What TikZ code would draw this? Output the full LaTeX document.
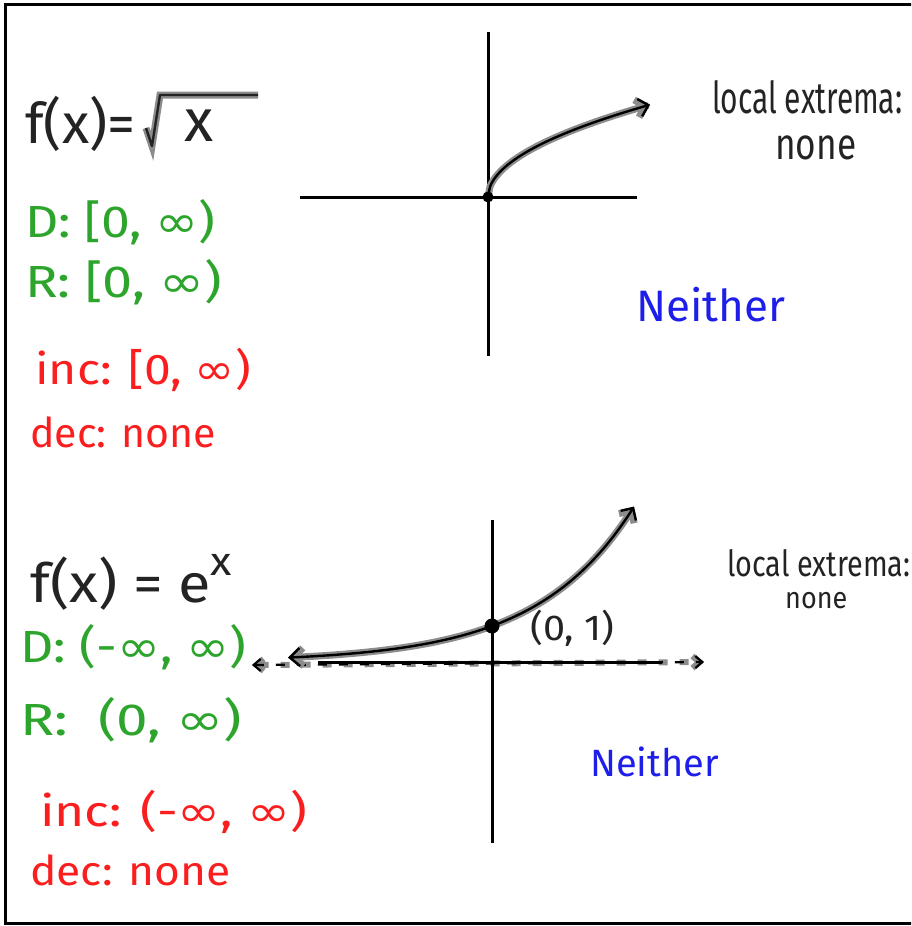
\documentclass[tikz,border=0pt]{standalone}
\usepackage{fontspec}
\setmainfont{Fira Sans}
\newfontfamily\symf{DejaVu Sans}
\usetikzlibrary{arrows.meta}
\definecolor{pgreen}{RGB}{45,165,45}
\definecolor{pred}{RGB}{250,30,30}
\definecolor{pblue}{RGB}{30,30,235}
\definecolor{pink}{RGB}{35,35,35}
\newcommand{\inff}{{\symf ∞}}
\newcommand{\sx}[2]{\scalebox{#1}[1]{#2}}
\begin{document}
\begin{tikzpicture}[x=1pt,y=-1pt,
  hw/.style={anchor=west,inner sep=0pt,font=\fontsize{#1}{#1}\selectfont},
  pen/.style={line width=2.4pt,draw=black,preaction={draw=black!45,line width=7pt}},
  axis/.style={line width=3pt,draw=black},
  tip/.style={-{Straight Barb[length=9pt,width=18pt]}},
  frame/.style={line width=3pt,draw=black}]
\useasboundingbox (0,0) rectangle (911,926);
\clip (0,0) rectangle (911,926);
\draw[frame] (5,4) rectangle (930,923);

% ---------- top: square root ----------
\node[hw=56,text=pink] (f1) at (25,124) {f(x)=};
\coordinate (ra) at (146,128);
\coordinate (rb) at (152,146);
\coordinate (rc) at (160,95);
\coordinate (rd) at (258,95);
\draw[pen,draw=pink,line join=round] (ra) -- (rb) -- (rc) -- (rd);
\node[hw=60,text=pink] (x1) at (184,126) {x};
\node[hw=45,text=pgreen] (d1) at (25,222) {\sx{1.15}{D: [0, \inff)}};
\node[hw=45,text=pgreen] (r1) at (25,282) {\sx{1.2}{R: [0, \inff)}};
\node[hw=43,text=pred] (i1) at (35,370) {\sx{1.12}{inc: [0, \inff)}};
\node[hw=41,text=pred] (c1) at (30,432) {dec: none};

\coordinate (h1a) at (300,197);
\coordinate (h1b) at (637,197);
\coordinate (v1a) at (488,32);
\coordinate (v1b) at (488,356);
\coordinate (o1) at (488,197);
\draw[axis] (h1a) -- (h1b);
\draw[axis] (v1a) -- (v1b);
\draw[pen,tip] plot[domain=0:162,samples=80,smooth] ({488+\x},{197-7.25*sqrt(\x)});
\fill (o1) circle (5.5);

\node[hw=44,text=pink] (le1) at (712,97) {\sx{0.68}{local extrema:}};
\node[hw=44,text=pink] (n1) at (775,148) {\sx{0.8}{none}};
\node[hw=44,text=pblue] (ne1) at (636,305) {Neither};

% ---------- bottom: exponential ----------
\node[hw=54,text=pink] (f2) at (30,582) {\sx{1.1}{f(x) = e\raisebox{0.5em}{\fontsize{40}{40}\selectfont x}}};
\node[hw=45,text=pgreen] (d2) at (20,647) {\sx{1.15}{D: (-\inff, \inff)}};
\node[hw=45,text=pgreen] (r2) at (20,720) {\sx{1.26}{R:\ \ (0, \inff)}};
\node[hw=43,text=pred] (i2) at (40,812) {\sx{1.2}{inc: (-\inff, \inff)}};
\node[hw=41,text=pred] (c2) at (30,870) {\sx{1.08}{dec: none}};

\coordinate (asl) at (252,665);
\coordinate (asr) at (704,662);
\coordinate (h2a) at (318,662);
\coordinate (h2b) at (662,662);
\coordinate (v2a) at (492,520);
\coordinate (v2b) at (492,843);
\coordinate (o2) at (492,626);
\draw[draw=black!45,line width=6pt,dash pattern=on 9pt off 12pt,{Straight Barb[length=7pt,width=12pt]}-{Straight Barb[length=7pt,width=12pt]}] (asl) -- (asr);
\draw[draw=black,line width=2.2pt,dash pattern=on 9pt off 12pt,{Straight Barb[length=7pt,width=12pt]}-{Straight Barb[length=7pt,width=12pt]}] (asl) -- (asr);
\draw[axis] (h2a) -- (h2b);
\draw[axis] (v2a) -- (v2b);
\draw[pen,{Straight Barb[length=10pt,width=18pt]}-{Straight Barb[length=9pt,width=18pt]}]
  plot[domain=288:634,samples=90,smooth] (\x,{662-36*exp(0.0103*(\x-492))});
\fill (o2) circle (7.5);
\node[hw=36,text=pink] (p01) at (530,628) {\sx{1.1}{(0, 1)}};

\node[hw=36,text=pink] (le2) at (727,563) {\sx{0.8}{local extrema:}};
\node[hw=30,text=pink] (n2) at (785,601) {\sx{0.9}{none}};
\node[hw=38,text=pblue] (ne2) at (590,762) {Neither};
\end{tikzpicture}
\end{document}
